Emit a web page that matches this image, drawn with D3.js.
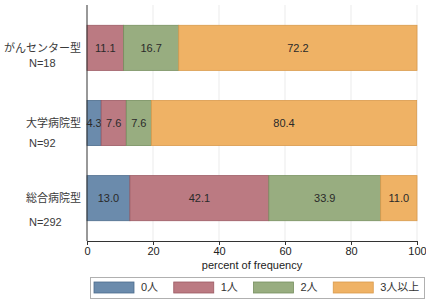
<!DOCTYPE html>
<html>
<head>
<meta charset="utf-8">
<script src="https://cdn.jsdelivr.net/npm/d3@7"></script>
<style>
  body { margin: 0; background: #fff; }
  svg { display: block; font-family: "Liberation Sans", Arial, "Noto Sans CJK JP", sans-serif; }
</style>
</head>
<body>
<div id="chart"></div>
<script>
// データ
const categories = ["がんセンター型", "大学病院型", "総合病院型"];
const nLabels = ["N=18", "N=92", "N=292"];
const series = ["0人", "1人", "2人", "3人以上"];
const values0 = [0, 4.3, 13.0];
const values1 = [11.1, 7.6, 42.1];
const values2 = [16.7, 7.6, 33.9];
const values3 = [72.2, 80.4, 11.0];
const xTicks = [0, 20, 40, 60, 80, 100];

const colors = ["#6b8bac", "#bb7a82", "#98ad80", "#efb265"];
const borders = ["#4d6c8c", "#9c5a63", "#77905f", "#d99a4c"];
// N= 行のずれ（元画像どおり）
const nOffsets = [15, 20, 24];

const rows = categories.map((c, i) => ({
  name: c,
  n: nLabels[i],
  "0人": values0[i], "1人": values1[i], "2人": values2[i], "3人以上": values3[i]
}));

const width = 426, height = 304;
const margin = { top: 5, right: 9, bottom: 63, left: 87 };

const svg = d3.select("#chart").append("svg")
  .attr("width", width)
  .attr("height", height);

const x = d3.scaleLinear()
  .domain([0, 100])
  .range([margin.left, width - margin.right]);

const y = d3.scaleBand()
  .domain(categories)
  .range([margin.top, height - margin.bottom])
  .paddingInner(0.4)
  .paddingOuter(0.27);

const color = d3.scaleOrdinal().domain(series).range(colors);
const stroke = d3.scaleOrdinal().domain(series).range(borders);

const stacked = d3.stack().keys(series)(rows);

// グリッド
svg.append("g")
  .selectAll("line")
  .data(xTicks.slice(1))
  .enter().append("line")
  .attr("x1", d => x(d)).attr("x2", d => x(d))
  .attr("y1", margin.top).attr("y2", height - margin.bottom)
  .attr("stroke", "#ebebeb")
  .attr("stroke-width", 1);

// 棒
const layer = svg.selectAll(".layer")
  .data(stacked)
  .enter().append("g")
  .attr("class", "layer")
  .attr("fill", d => color(d.key))
  .attr("stroke", d => stroke(d.key));

layer.selectAll("rect")
  .data(d => d)
  .enter().append("rect")
  .attr("x", d => x(d[0]))
  .attr("y", d => y(d.data.name))
  .attr("width", d => x(d[1]) - x(d[0]))
  .attr("height", y.bandwidth())
  .attr("stroke-width", d => (d[1] - d[0]) > 0 ? 0.8 : 0);

// 数値ラベル
layer.selectAll("text")
  .data(d => d.filter(s => s[1] - s[0] > 0))
  .enter().append("text")
  .attr("x", d => (x(d[0]) + x(d[1])) / 2)
  .attr("y", d => y(d.data.name) + y.bandwidth() / 2)
  .attr("dy", "0.35em")
  .attr("text-anchor", "middle")
  .attr("stroke", "none")
  .style("fill", "#2a2a2a")
  .style("font-size", "11px")
  .text(d => d3.format(".1f")(d[1] - d[0]));

// y軸ラベル
const yl = svg.append("g")
  .selectAll("g")
  .data(rows)
  .enter().append("g");

yl.append("text")
  .attr("x", margin.left - 6)
  .attr("y", d => y(d.name) + y.bandwidth() / 2)
  .attr("dy", "0.35em")
  .attr("text-anchor", "end")
  .style("font-size", "11px")
  .style("fill", "#3a3a3a")
  .text(d => d.name);

yl.append("text")
  .attr("x", 29)
  .attr("y", (d, i) => y(d.name) + y.bandwidth() / 2 + nOffsets[i])
  .attr("dy", "0.35em")
  .style("font-size", "11px")
  .style("fill", "#3a3a3a")
  .text(d => d.n);

// 軸
svg.append("line")
  .attr("x1", x(0)).attr("x2", x(0))
  .attr("y1", margin.top).attr("y2", height - margin.bottom)
  .attr("stroke", "#333");

const xAxis = svg.append("g")
  .attr("transform", `translate(0, ${height - margin.bottom})`)
  .call(d3.axisBottom(x).tickValues(xTicks).tickSize(4).tickPadding(2).tickSizeOuter(0));
xAxis.select(".domain").attr("stroke", "#333");
xAxis.selectAll(".tick line").attr("stroke", "#333");
xAxis.selectAll(".tick text")
  .style("font-size", "11px")
  .style("font-family", "\"Liberation Sans\", Arial, sans-serif")
  .style("fill", "#222");

svg.append("text")
  .attr("x", (x(0) + x(100)) / 2)
  .attr("y", height - margin.bottom + 24)
  .attr("dy", "0.35em")
  .attr("text-anchor", "middle")
  .style("font-size", "11px")
  .style("fill", "#222")
  .text("percent of frequency");

// 凡例
const lx = d3.scaleBand().domain(series).range([94, 413]);
const legend = svg.append("g");
legend.append("rect")
  .attr("x", 90.5).attr("y", 277.5)
  .attr("width", 334).attr("height", 21)
  .attr("fill", "#fff")
  .attr("stroke", "#b0b0b0");

const li = legend.selectAll(".li")
  .data(series)
  .enter().append("g")
  .attr("class", "li");

li.append("rect")
  .attr("x", d => lx(d))
  .attr("y", 282)
  .attr("width", 40)
  .attr("height", 11)
  .attr("fill", d => color(d))
  .attr("stroke", d => stroke(d))
  .attr("stroke-width", 0.8);

li.append("text")
  .attr("x", d => lx(d) + 47)
  .attr("y", 287.5)
  .attr("dy", "0.35em")
  .style("font-size", "11px")
  .style("fill", "#333")
  .text(d => d);
</script>
</body>
</html>
